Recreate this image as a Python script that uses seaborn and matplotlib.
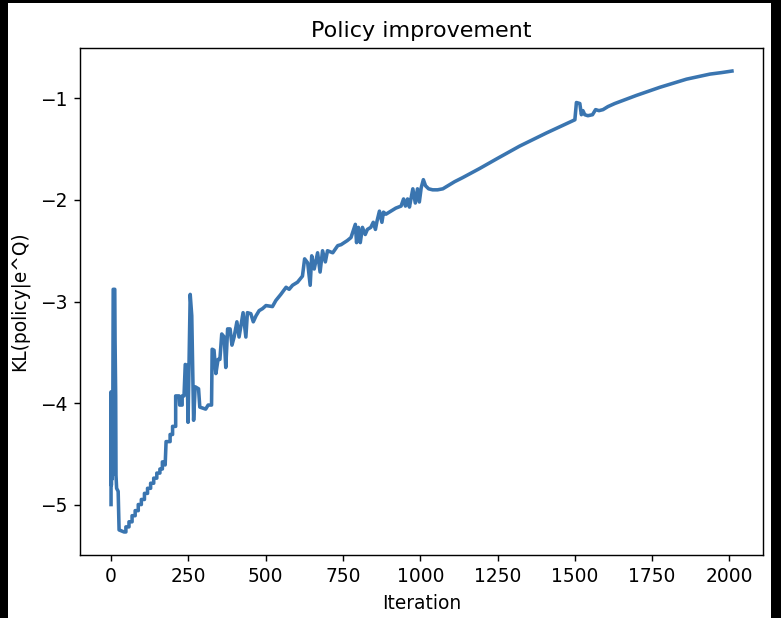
import matplotlib
matplotlib.use("Agg")
import matplotlib.pyplot as plt
import numpy as np
import pandas as pd
import seaborn as sns
from matplotlib.patches import Rectangle

# vertices of the KL curve (iteration, KL)
iteration = [
    0, 0, 1, 2, 3, 4, 5, 7, 12, 13, 15, 16, 18, 23, 26, 42,
    48, 48, 58, 58, 68, 68, 78, 78, 88, 88, 98, 98, 108, 108,
    118, 118, 128, 128, 138, 138, 148, 148, 158, 158, 166, 166, 172,
    175, 178, 191, 191, 199, 199, 209, 209, 220, 222, 230, 230, 236,
    240, 246, 249, 256, 261, 267, 272, 283, 287, 306, 314, 325,
    327, 333, 339, 346, 352, 358, 366, 371, 377, 385, 391, 398, 407,
    414, 427, 436, 441, 452, 460, 469, 479, 490, 501, 522, 533, 549,
    566, 576, 587, 603, 619, 626, 636, 644, 649, 657, 668, 676, 684,
    693, 700, 717, 733, 744, 764, 776, 790, 794, 800, 806, 813, 822,
    829, 840, 848, 855, 860, 868, 876, 881, 889, 905, 921, 938, 946,
    952, 959, 965, 976, 984, 991, 997, 1003, 1010, 1017, 1027, 1040,
    1056, 1073, 1089, 1111, 1137, 1192, 1250, 1321, 1408, 1500,
    1505, 1516, 1521, 1526, 1532, 1542, 1557, 1567, 1578, 1591, 1607,
    1629, 1699, 1775, 1861, 1937, 1975, 2008,
]
kl = [
    -5.00, -3.89, -4.81, -3.93, -4.75, -3.95, -4.71, -2.88, -2.88, -3.39, -3.93, -4.71, -4.84, -4.87, -5.25, -5.27,
    -5.27, -5.22, -5.22, -5.17, -5.17, -5.11, -5.11, -5.06, -5.06, -5.00, -5.00, -4.95, -4.95, -4.89,
    -4.89, -4.84, -4.84, -4.79, -4.79, -4.74, -4.74, -4.69, -4.69, -4.65, -4.65, -4.58, -4.58,
    -4.61, -4.38, -4.38, -4.31, -4.31, -4.23, -4.23, -3.93, -3.93, -4.02, -4.02, -3.93, -3.93,
    -3.62, -3.63, -4.19, -2.93, -3.14, -4.17, -3.84, -3.86, -4.04, -4.06, -4.02, -4.02,
    -3.47, -3.48, -3.71, -3.57, -3.57, -3.32, -3.35, -3.65, -3.27, -3.27, -3.43, -3.35, -3.20,
    -3.35, -3.11, -3.35, -3.11, -3.12, -3.20, -3.14, -3.09, -3.07, -3.04, -3.05, -2.99, -2.93,
    -2.86, -2.88, -2.84, -2.81, -2.75, -2.58, -2.62, -2.84, -2.55, -2.68, -2.52, -2.71, -2.50,
    -2.61, -2.50, -2.52, -2.45, -2.44, -2.40, -2.37, -2.24, -2.42, -2.27, -2.42, -2.27, -2.34,
    -2.29, -2.27, -2.22, -2.29, -2.21, -2.11, -2.22, -2.12, -2.14, -2.11, -2.08, -2.06, -1.99,
    -2.06, -1.99, -2.07, -1.89, -2.03, -1.89, -2.02, -1.88, -1.80, -1.86, -1.89, -1.90,
    -1.90, -1.89, -1.86, -1.82, -1.78, -1.69, -1.59, -1.47, -1.34, -1.21,
    -1.04, -1.05, -1.16, -1.12, -1.16, -1.17, -1.16, -1.11, -1.12, -1.11, -1.08,
    -1.05, -0.97, -0.89, -0.81, -0.76, -0.745, -0.73,
]

df = pd.DataFrame({"Iteration": iteration, "KL": kl})

plt.rcParams["font.size"] = 10.5

fig = plt.figure(figsize=(781 / 128, 618 / 128), dpi=128, facecolor="black")
# white page with the thin dark margins seen in the reference
fig.patches.append(Rectangle((8 / 781, 0), 763 / 781, 615 / 618,
                             transform=fig.transFigure, facecolor="white",
                             edgecolor="none", zorder=-10))
ax = fig.add_axes([80 / 781, 63 / 618, 683 / 781, 507 / 618])

sns.lineplot(data=df, x="Iteration", y="KL", estimator=None, sort=False,
             color="#3a75b0", linewidth=2.0, ax=ax)

ax.set_title("Policy improvement", fontsize=12.5)
ax.set_xlabel("Iteration")
ax.set_ylabel("KL(policy|e^Q)", labelpad=6)
ax.set_yticks([-5, -4, -3, -2, -1])

plt.savefig("out.png", dpi=128, facecolor=fig.get_facecolor())
